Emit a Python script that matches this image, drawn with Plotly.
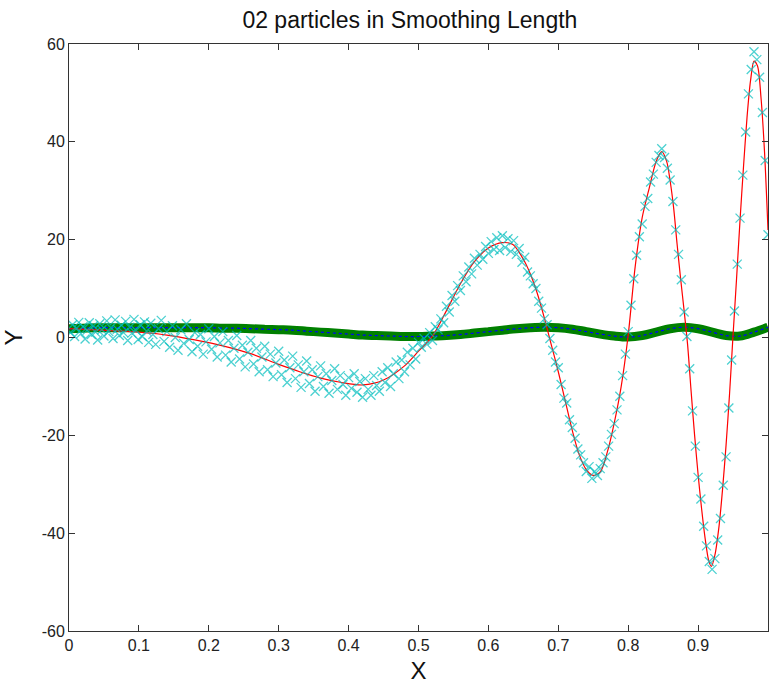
import plotly.graph_objects as go

# Courbe exacte (trait rouge)
exact_x = [0, 0.03, 0.06, 0.10, 0.14, 0.18, 0.22, 0.26, 0.30, 0.33,
           0.36, 0.39, 0.42, 0.45, 0.48, 0.50, 0.52, 0.54, 0.56, 0.58,
           0.60, 0.62, 0.635, 0.65, 0.66, 0.67, 0.68, 0.69, 0.70, 0.71,
           0.72, 0.73, 0.74, 0.75, 0.76, 0.77, 0.78, 0.79, 0.80, 0.81,
           0.82, 0.83, 0.84, 0.848, 0.855, 0.86, 0.865, 0.87, 0.875, 0.88,
           0.885, 0.89, 0.895, 0.90, 0.905, 0.91, 0.915, 0.919, 0.924, 0.93,
           0.935, 0.94, 0.945, 0.95, 0.955, 0.96, 0.965, 0.97, 0.975, 0.98,
           0.985, 0.99, 0.995, 1.0]
exact_y = [1.8, 1.6, 1.4, 1.1, 0.5, -0.5, -1.7, -3.3, -5.5, -7.0,
           -8.3, -9.2, -9.7, -8.7, -5.8, -2.8, 0.3, 5.5, 11.0, 15.5,
           18.3, 19.4, 19.0, 16.0, 13.0, 9.0, 4.0, -1.5, -7.0, -13.0,
           -19.0, -24.0, -27.0, -28.2, -27.5, -23.5, -17.5, -10.0, 0.5, 14.5,
           24.5, 30.5, 36.0, 38.0, 36.0, 32.0, 26.5, 19.0, 12.0, 5.5,
           -1.5, -11.0, -20.0, -28.0, -35.0, -41.0, -45.5, -46.8, -44.5, -38.5,
           -31.0, -22.0, -11.5, 0.5, 12.0, 24.0, 35.0, 45.0, 52.5, 56.5,
           55.5, 49.0, 38.0, 22.0]

# Particules bruitées (croix cyan)
part_x = [0.002, 0.005, 0.008, 0.011, 0.014, 0.017, 0.020, 0.023, 0.026, 0.029,
          0.032, 0.035, 0.038, 0.041, 0.044, 0.047, 0.050, 0.054, 0.057, 0.060,
          0.063, 0.066, 0.069, 0.072, 0.075, 0.078, 0.081, 0.084, 0.087, 0.090,
          0.093, 0.096, 0.099, 0.102, 0.105, 0.108, 0.111, 0.114, 0.117, 0.120,
          0.124, 0.128, 0.132, 0.136, 0.140, 0.144, 0.148, 0.152, 0.156, 0.160,
          0.164, 0.168, 0.172, 0.176, 0.180, 0.184, 0.188, 0.192, 0.196, 0.200,
          0.204, 0.208, 0.212, 0.216, 0.220, 0.224, 0.228, 0.232, 0.236, 0.240,
          0.244, 0.248, 0.252, 0.256, 0.260, 0.264, 0.268, 0.272, 0.276, 0.280,
          0.284, 0.288, 0.292, 0.296, 0.300, 0.304, 0.308, 0.312, 0.316, 0.320,
          0.324, 0.328, 0.332, 0.336, 0.340, 0.344, 0.348, 0.352, 0.356, 0.360,
          0.364, 0.368, 0.372, 0.376, 0.380, 0.384, 0.388, 0.392, 0.396, 0.400,
          0.404, 0.408, 0.412, 0.416, 0.420, 0.424, 0.428, 0.432, 0.436, 0.440,
          0.444, 0.448, 0.452, 0.456, 0.460, 0.464, 0.468, 0.472, 0.476, 0.480,
          0.484, 0.488, 0.492, 0.496, 0.500,
          0.504, 0.508, 0.512, 0.516, 0.520, 0.524, 0.528, 0.532, 0.536, 0.540,
          0.544, 0.548, 0.552, 0.556, 0.560, 0.564, 0.568, 0.572, 0.576, 0.580,
          0.584, 0.588, 0.592, 0.596, 0.600, 0.604, 0.608, 0.612, 0.616, 0.620,
          0.624, 0.628, 0.632, 0.636, 0.640, 0.644, 0.648, 0.652, 0.656, 0.660,
          0.664, 0.668, 0.672, 0.676, 0.680, 0.684, 0.688, 0.692, 0.696, 0.700,
          0.704, 0.708, 0.712, 0.716, 0.720, 0.724, 0.728, 0.732, 0.736, 0.740,
          0.744, 0.748, 0.752, 0.756, 0.760, 0.764, 0.768, 0.772, 0.776, 0.780,
          0.784, 0.788, 0.792, 0.796, 0.800, 0.804, 0.808, 0.812, 0.816, 0.820,
          0.824, 0.828, 0.832, 0.836, 0.840, 0.844, 0.848, 0.852, 0.856, 0.860,
          0.864, 0.868, 0.872, 0.876, 0.880, 0.884, 0.888, 0.892, 0.896, 0.900,
          0.904, 0.908, 0.912, 0.916, 0.920, 0.924, 0.928, 0.932, 0.936, 0.940,
          0.944, 0.948, 0.952, 0.956, 0.960, 0.964, 0.968, 0.972, 0.976, 0.980,
          0.984, 0.988, 0.992, 0.996, 1.000]
part_y = [1.0, 2.6, 0.2, 1.9, 3.1, 0.8, 2.2, -0.3, 1.5, 3.0,
          0.6, 2.4, 1.1, -0.5, 2.8, 1.6, 0.3, 3.4, 1.2, 2.0,
          -0.2, 3.6, 1.7, 0.4, 2.5, 1.0, 3.3, -0.6, 2.1, 0.9,
          3.7, 1.4, -0.4, 2.6, 0.2, 3.2, 1.3, -1.0, 2.9, 0.6,
          -1.4, 1.8, 3.5, -0.8, 1.2, -2.0, 2.4, 0.0, -2.6, 1.6,
          -1.2, 2.8, -0.4, -2.9, 1.0, -1.8, 0.6, -3.4, -0.9, 1.8,
          -2.4, 0.2, -4.0, -1.1, 1.2, -3.6, -0.6, -5.0, -2.2, 0.4,
          -4.4, -1.6, -6.0, -3.0, -0.6, -5.4, -2.2, -7.0, -4.0, -1.8,
          -6.6, -3.4, -8.0, -5.2, -2.8, -7.6, -4.6, -9.2, -6.2, -3.8,
          -8.4, -5.6, -10.2, -7.0, -4.8, -9.4, -6.6, -11.0, -8.0, -5.8,
          -10.0, -7.4, -11.4, -8.8, -6.4, -10.6, -7.8, -9.6, -11.8, -8.2,
          -10.4, -7.4, -11.2, -9.0, -12.2, -8.4, -10.6, -11.8, -7.8, -9.8,
          -11.0, -7.0, -9.2, -6.2, -10.0, -7.4, -5.0, -8.4, -4.6, -7.0,
          -3.0, -5.6, -2.2, -4.4, -1.0,
          -2.0, -0.2, -1.4, 1.0, -0.6, 2.2, 1.6, 3.8, 3.0, 6.4,
          5.2, 8.6, 7.4, 10.6, 9.6, 12.6, 11.4, 14.4, 13.0, 16.2,
          14.8, 17.0, 16.0, 18.6, 17.2, 19.6, 18.0, 20.4, 17.8, 20.8,
          18.4, 20.2, 17.6, 19.8, 17.0, 18.2, 15.4, 16.4, 13.4, 12.6,
          11.0, 10.0, 7.4, 6.0, 3.8, 2.6, -0.2, -2.6, -5.0, -6.2,
          -9.6, -12.4, -13.4, -16.8, -18.4, -20.6, -22.8, -24.0, -25.6, -27.4,
          -26.4, -28.8, -27.4, -28.2, -26.8, -25.6, -24.4, -22.2, -19.8, -17.6,
          -14.8, -12.0, -7.8, -3.4, 1.2, 6.6, 12.0, 16.8, 20.6, 23.2,
          26.8, 28.4, 31.8, 33.4, 35.8, 37.2, 38.6, 36.8, 34.6, 32.2,
          27.8, 22.0, 17.0, 11.8, 5.2, 0.2, -6.4, -15.0, -22.2, -28.6,
          -33.0, -38.6, -42.6, -45.8, -47.4, -45.2, -41.4, -37.0, -30.2, -24.4,
          -14.4, -4.6, 5.4, 15.0, 24.4, 33.2, 42.0, 49.8, 54.8, 58.4,
          56.8, 53.2, 46.0, 36.2, 21.0]

# Courbe lissée (cercles verts)
smooth_x = [0.00, 0.02, 0.04, 0.06, 0.08, 0.10, 0.12, 0.14, 0.16, 0.18,
            0.20, 0.22, 0.24, 0.26, 0.28, 0.30, 0.32, 0.34, 0.36, 0.38,
            0.40, 0.42, 0.44, 0.46, 0.48, 0.50, 0.52, 0.54, 0.56, 0.58,
            0.60, 0.62, 0.64, 0.66, 0.68, 0.70, 0.72, 0.74, 0.76, 0.78,
            0.80, 0.82, 0.84, 0.86, 0.88, 0.90, 0.92, 0.94, 0.96, 0.98, 1.00]
smooth_y = [1.8, 1.9, 2.0, 2.0, 2.0, 2.0, 2.0, 2.0, 2.0, 2.0,
            2.0, 1.9, 1.9, 1.8, 1.7, 1.6, 1.5, 1.3, 1.1, 0.9,
            0.7, 0.5, 0.4, 0.3, 0.2, 0.2, 0.3, 0.4, 0.6, 0.9,
            1.2, 1.5, 1.8, 2.0, 2.1, 2.0, 1.7, 1.2, 0.7, 0.3,
            0.1, 0.4, 1.1, 1.8, 2.1, 1.8, 1.1, 0.4, 0.3, 1.1, 2.1]

x_ticks = [0, 0.1, 0.2, 0.3, 0.4, 0.5, 0.6, 0.7, 0.8, 0.9, 1]
x_labels = ['0', '0.1', '0.2', '0.3', '0.4', '0.5', '0.6', '0.7', '0.8', '0.9', '1']
y_ticks = [-60, -40, -20, 0, 20, 40, 60]
y_labels = ['-60', '-40', '-20', '0', '20', '40', '60']

fig = go.Figure()

fig.add_trace(go.Scatter(x=smooth_x, y=smooth_y, mode='lines',
                         line=dict(color='#008000', width=9, shape='spline'),
                         hoverinfo='skip'))
fig.add_trace(go.Scatter(x=smooth_x, y=smooth_y, mode='lines',
                         line=dict(color='#0000ff', width=1.2, dash='dot', shape='spline'),
                         hoverinfo='skip'))
fig.add_trace(go.Scatter(x=exact_x, y=exact_y, mode='lines',
                         line=dict(color='#ff0000', width=1.2, shape='spline', smoothing=0.8)))
fig.add_trace(go.Scatter(x=part_x, y=part_y, mode='markers',
                         marker=dict(symbol='x-thin-open', size=9, opacity=0.7, color='#00bebe',
                                     line=dict(color='#00bebe', width=1.3))))

axis_style = dict(showgrid=False, zeroline=False, showline=True, mirror='ticks',
                  linecolor='#333333', linewidth=1, ticks='inside', ticklen=6,
                  tickcolor='#333333', tickfont=dict(size=16, color='#222222'),
                  automargin=False)

fig.update_xaxes(range=[0, 1], tickvals=x_ticks, ticktext=x_labels,
                 title=dict(text='X', font=dict(size=24, color='#111111'), standoff=8),
                 **axis_style)
fig.update_yaxes(range=[-60, 60], tickvals=y_ticks, ticktext=y_labels,
                 title=dict(text='Y', font=dict(size=24, color='#111111'), standoff=15),
                 **axis_style)

fig.update_layout(
    width=769, height=688,
    margin=dict(l=69, r=1, t=44, b=57),
    title=dict(text='02 particles in Smoothing Length', x=0.533, xanchor='center',
               y=0.971, yanchor='middle', font=dict(size=23, color='#111111')),
    font=dict(family='Liberation Sans Narrow, Liberation Sans, Arial, sans-serif'),
    plot_bgcolor='white', paper_bgcolor='white',
    showlegend=False,
)

# la page a une marge de 8 px par défaut : on la retire
fig.write_html('out.html', config={'displayModeBar': False},
               post_script="document.body.style.margin='0';")
